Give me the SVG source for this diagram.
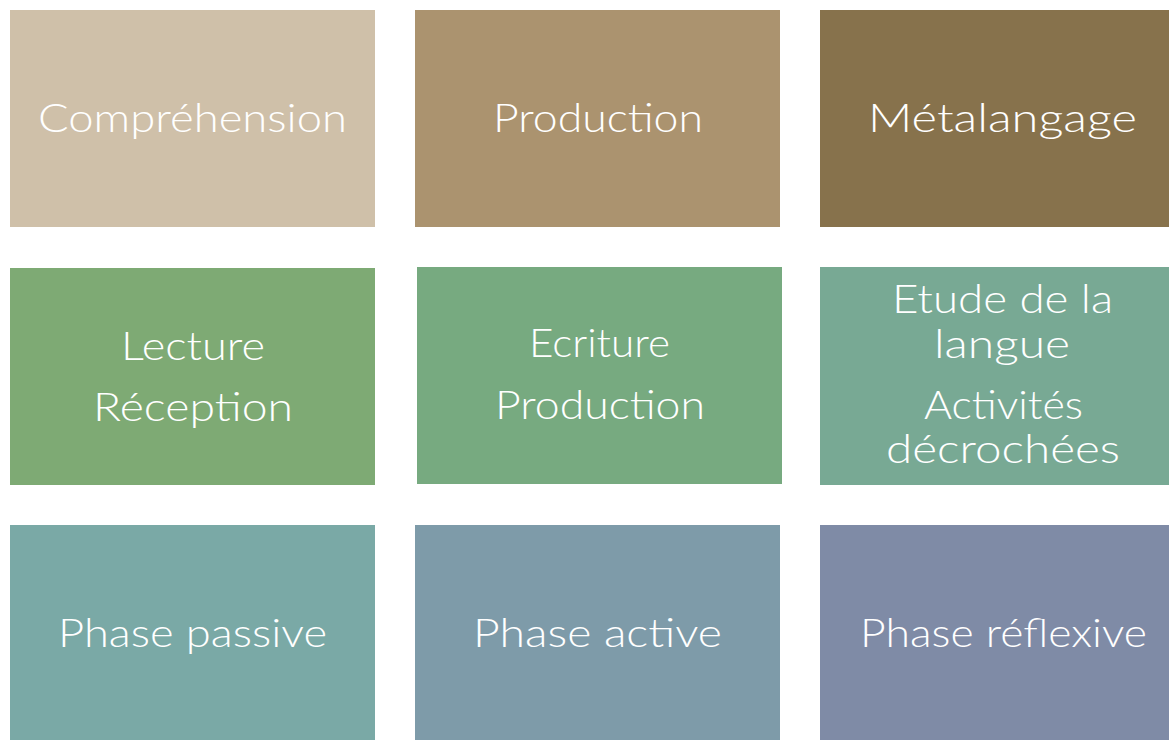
<svg xmlns="http://www.w3.org/2000/svg" width="1169" height="740" viewBox="0 0 1169 740">
<style>
text{font-family:"Lato","Open Sans","Liberation Sans",sans-serif;font-weight:300;font-size:40px;fill:#FFFFFF;text-anchor:middle}
</style>
<rect width="1169" height="740" fill="#FFFFFF"/>
<g id="n1"><rect x="10" y="10" width="365" height="217" fill="#CFC0A9"/><text x="192.5" y="132" textLength="309" lengthAdjust="spacingAndGlyphs">Compréhension</text></g>
<g id="n2"><rect x="415" y="10" width="365" height="217" fill="#AB936F"/><text x="598" y="132" textLength="210" lengthAdjust="spacingAndGlyphs">Production</text></g>
<g id="n3"><rect x="820" y="10" width="349" height="217" fill="#87724C"/><text x="1002.5" y="132" textLength="269" lengthAdjust="spacingAndGlyphs">Métalangage</text></g>
<g id="n4"><rect x="10" y="268" width="365" height="217" fill="#7EAA74"/><text x="193" y="360" textLength="144" lengthAdjust="spacingAndGlyphs">Lecture</text><text x="193" y="421" textLength="200" lengthAdjust="spacingAndGlyphs">Réception</text></g>
<g id="n5"><rect x="417" y="267" width="365" height="217" fill="#77AA80"/><text x="599.5" y="357" textLength="141" lengthAdjust="spacingAndGlyphs">Ecriture</text><text x="600" y="419" textLength="210" lengthAdjust="spacingAndGlyphs">Production</text></g>
<g id="n6"><rect x="820" y="267" width="349" height="218" fill="#78A994"/><text x="1002.5" y="313" textLength="221" lengthAdjust="spacingAndGlyphs">Etude de la</text><text x="1002" y="358" textLength="136" lengthAdjust="spacingAndGlyphs">langue</text><text x="1003.5" y="419" textLength="159" lengthAdjust="spacingAndGlyphs">Activités</text><text x="1003" y="463" textLength="234" lengthAdjust="spacingAndGlyphs">décrochées</text></g>
<g id="n7"><rect x="10" y="525" width="365" height="215" fill="#7AA9A6"/><text x="192.5" y="647" textLength="269" lengthAdjust="spacingAndGlyphs">Phase passive</text></g>
<g id="n8"><rect x="415" y="525" width="365" height="215" fill="#7E9BA9"/><text x="597.5" y="647" textLength="249" lengthAdjust="spacingAndGlyphs">Phase active</text></g>
<g id="n9"><rect x="820" y="525" width="349" height="215" fill="#7F8BA6"/><text x="1003.5" y="647" textLength="287" lengthAdjust="spacingAndGlyphs">Phase réflexive</text></g>
<g id="connectors"></g>
</svg>
